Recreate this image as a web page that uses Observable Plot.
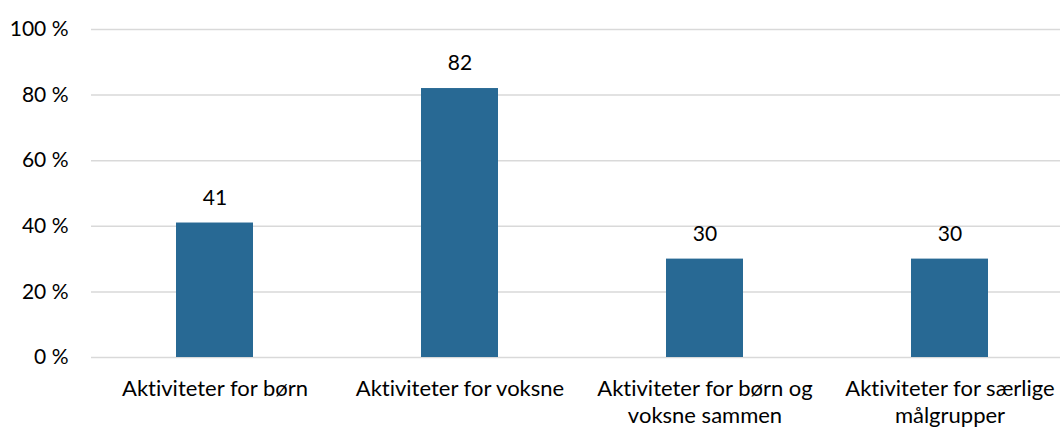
<!DOCTYPE html>
<html>
<head>
<meta charset="utf-8">
<script src="https://cdn.jsdelivr.net/npm/d3@7"></script>
<script src="https://cdn.jsdelivr.net/npm/@observablehq/plot@0.6"></script>
<style>
  html, body { margin: 0; padding: 0; background: #fff; overflow: hidden; }
  #chart svg { display: block; font-variant-ligatures: none; }
  #chart svg text { font-variant-ligatures: none; }
</style>
</head>
<body>
<div id="chart"></div>
<script>
const categories = [
  "Aktiviteter for børn",
  "Aktiviteter for voksne",
  "Aktiviteter for børn og\nvoksne sammen",
  "Aktiviteter for særlige\nmålgrupper"
];
const values = [41, 82, 30, 30];
const yTicks = [0, 20, 40, 60, 80, 100];

const data = categories.map((c, i) => ({category: c, value: values[i]}));
const font = "Lato, 'Open Sans', sans-serif";

const chart = Plot.plot({
  width: 1060,
  height: 428,
  marginLeft: 91,
  marginRight: 0,
  marginTop: 29,
  marginBottom: 71,
  style: {fontFamily: font, color: "#000", background: "#fff", overflow: "hidden"},
  x: {domain: categories, range: [91.25, 1073], paddingInner: 0.686, paddingOuter: 0.343, align: 0.5},
  y: {domain: [0, 100]},
  marks: [
    Plot.ruleY(yTicks, {stroke: "#d9d9d9", strokeWidth: 1.5}),
    Plot.barY(data, {x: "category", y: "value", fill: "#286994"}),
    Plot.text(data, {x: "category", y: "value", text: d => String(d.value), dy: -25, fontSize: 21, fill: "#000", textAnchor: "middle", lineAnchor: "middle"}),
    Plot.axisY({ticks: yTicks, tickSize: 0, tickPadding: 23, tickFormat: d => d + " %", fontSize: 21, label: null, fill: "#000"}),
    Plot.axisX({tickSize: 0, tickPadding: 20, fontSize: 22, lineHeight: 1.2, label: null, fill: "#000"})
  ]
});
document.getElementById("chart").appendChild(chart);
</script>
</body>
</html>
